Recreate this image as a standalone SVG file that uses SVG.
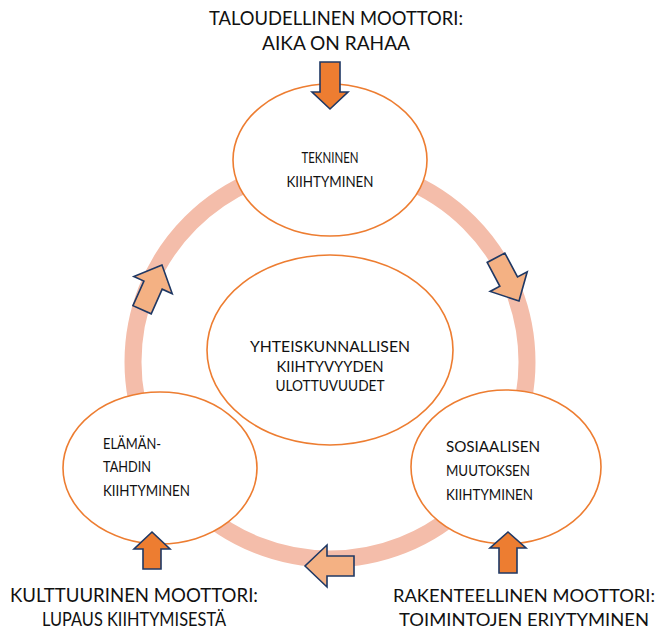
<svg xmlns="http://www.w3.org/2000/svg" width="662" height="630" viewBox="0 0 662 630">
<defs>
<style>
.ring{fill:none;stroke:#F4BDAA;stroke-width:17}
.node{fill:#FFFFFF;stroke:#ED7D31;stroke-width:1.6}
.t{font-family:Lato,"Open Sans","Liberation Sans",sans-serif;fill:#111111}
.out{font-size:19px}
.out2{font-size:18px}
.in{font-size:15px}
.c{text-anchor:middle}
.pale{fill:#F4B183;stroke:#1F3864;stroke-width:1.6;stroke-linejoin:miter}
.drive{fill:#ED7D31;stroke:#1F3864;stroke-width:1.6;stroke-linejoin:miter}
</style>
<path id="pa" d="M0,0 L-22,-21 L-22,-10 L-49,-10 L-49,10 L-22,10 L-22,21 Z"/>
</defs>
<rect width="662" height="630" fill="#FFFFFF"/>
<g id="connectors">
<circle class="ring" cx="330" cy="362" r="197"/>
<use href="#pa" class="pale" transform="translate(519,301) rotate(62)"/>
<use href="#pa" class="pale" transform="translate(305,566) rotate(180)"/>
<use href="#pa" class="pale" transform="translate(162,265) rotate(-66)"/>
</g>
<g id="node-top">
<ellipse class="node" cx="330" cy="160" rx="97" ry="76"/>
<text class="t in c" x="330" y="163" textLength="57" lengthAdjust="spacingAndGlyphs">TEKNINEN</text>
<text class="t in c" x="330" y="187" textLength="87" lengthAdjust="spacingAndGlyphs">KIIHTYMINEN</text>
</g>
<g id="node-center">
<ellipse class="node" cx="330" cy="350" rx="123" ry="95"/>
<text class="t in c" x="330" y="352" textLength="160" lengthAdjust="spacingAndGlyphs">YHTEISKUNNALLISEN</text>
<text class="t in c" x="330" y="372" textLength="107" lengthAdjust="spacingAndGlyphs">KIIHTYVYYDEN</text>
<text class="t in c" x="330" y="391" textLength="109" lengthAdjust="spacingAndGlyphs">ULOTTUVUUDET</text>
</g>
<g id="node-left">
<ellipse class="node" cx="160" cy="468" rx="97" ry="76"/>
<text class="t in" x="103" y="449" textLength="58" lengthAdjust="spacingAndGlyphs">ELÄMÄN-</text>
<text class="t in" x="103" y="472" textLength="48" lengthAdjust="spacingAndGlyphs">TAHDIN</text>
<text class="t in" x="103" y="496" textLength="87" lengthAdjust="spacingAndGlyphs">KIIHTYMINEN</text>
</g>
<g id="node-right">
<ellipse class="node" cx="506" cy="467" rx="95" ry="77"/>
<text class="t in" x="446" y="452" textLength="94" lengthAdjust="spacingAndGlyphs">SOSIAALISEN</text>
<text class="t in" x="446" y="476" textLength="84" lengthAdjust="spacingAndGlyphs">MUUTOKSEN</text>
<text class="t in" x="446" y="500" textLength="87" lengthAdjust="spacingAndGlyphs">KIIHTYMINEN</text>
</g>
<g id="driver-top">
<path class="drive" d="M320,62 H340 V92 H348 L330,109 L312,92 H320 Z"/>
<text class="t out c" x="336" y="25" textLength="254" lengthAdjust="spacingAndGlyphs">TALOUDELLINEN MOOTTORI:</text>
<text class="t out c" x="336" y="50" textLength="148" lengthAdjust="spacingAndGlyphs">AIKA ON RAHAA</text>
</g>
<g id="driver-left">
<path class="drive" d="M152,532 L170,549 H161 V569 H143 V549 H134 Z"/>
<text class="t out c" x="134" y="602" textLength="248" lengthAdjust="spacingAndGlyphs">KULTTUURINEN MOOTTORI:</text>
<text class="t out c" x="134" y="626" textLength="184" lengthAdjust="spacingAndGlyphs">LUPAUS KIIHTYMISESTÄ</text>
</g>
<g id="driver-right">
<path class="drive" d="M508,532 L526,548 H517 V573 H499 V548 H490 Z"/>
<text class="t out2 c" x="524" y="602" textLength="262" lengthAdjust="spacingAndGlyphs">RAKENTEELLINEN MOOTTORI:</text>
<text class="t out2 c" x="524" y="626" textLength="250" lengthAdjust="spacingAndGlyphs">TOIMINTOJEN ERIYTYMINEN</text>
</g>
</svg>
